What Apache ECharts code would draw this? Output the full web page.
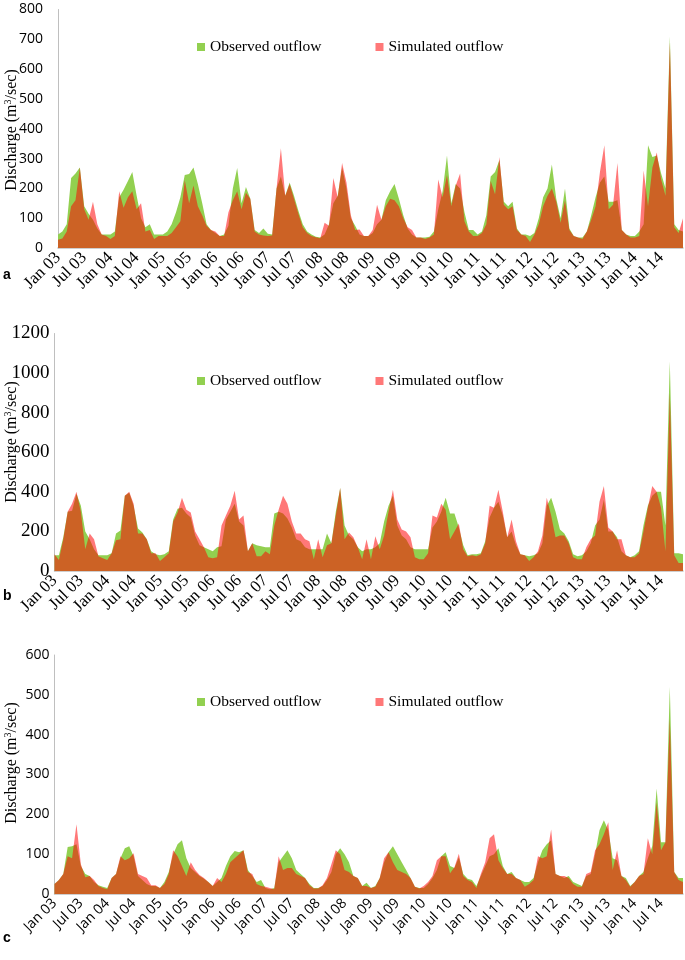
<!DOCTYPE html>
<html>
<head>
<meta charset="utf-8">
<script src="https://cdn.jsdelivr.net/npm/echarts@6/dist/echarts.min.js"></script>
<style>
html,body{margin:0;padding:0;background:#fff;}
#chart{width:685px;height:960px;}
</style>
</head>
<body>
<div id="chart"></div>
<script>
// ---- categories (monthly, Jan 2003 - Dec 2014) ----
const monthNames = ['Jan','Feb','Mar','Apr','May','Jun','Jul','Aug','Sep','Oct','Nov','Dec'];
const yearLabels = ['03','04','05','06','07','08','09','10','11','12','13','14'];
const categories = [];
yearLabels.forEach(y => monthNames.forEach(m => categories.push(m + ' ' + y)));

// ---- Panel a ----
const aObserved = [
  45,55,80,235,250,270,140,115,95,65,45,45,
  45,55,170,195,225,255,175,100,70,80,45,45,
  45,55,80,120,170,245,248,270,215,150,80,60,
  50,40,45,75,200,268,150,205,165,60,50,65,
  48,45,200,240,175,220,175,125,80,55,45,38,
  35,45,80,150,175,270,200,100,75,45,40,40,
  50,80,95,160,190,215,165,110,65,45,35,35,
  35,38,55,130,190,310,150,215,200,120,60,60,
  45,55,110,240,255,295,155,140,155,65,45,45,
  40,50,100,170,200,280,165,100,200,65,40,35,
  35,55,110,170,220,240,155,155,160,60,45,40,
  40,55,80,345,305,310,250,200,710,80,60,55
];
const aSimulated = [
  28,32,55,140,160,270,130,95,155,80,45,40,
  30,40,190,135,170,190,130,150,55,60,30,40,
  40,40,50,70,90,228,150,210,140,110,75,60,
  55,40,40,120,160,190,130,185,165,55,45,42,
  40,42,200,335,175,215,165,115,70,50,40,36,
  33,85,75,235,170,285,220,110,60,62,40,40,
  60,145,95,140,165,160,140,100,70,60,35,35,
  30,35,45,230,170,245,140,210,250,90,55,40,
  40,50,80,225,180,305,145,130,140,60,45,40,
  20,45,80,140,175,200,155,85,160,60,40,35,
  30,55,95,140,255,345,130,145,285,60,45,35,
  35,40,260,140,270,320,230,175,690,70,50,100
];

// ---- Panel b ----
const bObserved = [
  80,80,170,300,305,390,330,200,160,110,80,80,
  80,90,190,205,380,395,330,215,195,160,100,85,
  80,85,100,260,315,320,290,270,180,130,120,110,
  100,120,125,260,300,340,250,230,100,140,130,125,
  120,120,290,300,290,265,220,160,150,120,110,110,
  110,110,190,140,300,420,230,180,160,120,100,110,
  110,120,140,250,330,380,230,180,160,120,110,110,
  110,110,220,250,300,370,290,290,220,130,80,85,
  85,90,150,270,320,350,280,170,200,130,85,80,
  75,80,90,140,330,370,300,210,190,150,85,75,
  80,100,140,230,260,360,200,200,170,100,80,70,
  80,100,230,330,380,400,400,230,1060,90,90,85
];
const bSimulated = [
  85,55,160,300,340,400,300,110,190,160,75,65,
  55,90,155,160,380,400,340,190,190,160,90,90,
  50,70,90,250,295,370,310,295,200,160,120,70,
  65,70,230,280,330,405,260,280,100,140,75,75,
  100,85,230,310,380,340,250,190,190,160,150,60,
  160,70,130,140,280,420,160,195,170,120,60,160,
  60,175,110,180,300,410,260,210,200,170,70,60,
  60,90,280,270,340,310,160,200,240,110,75,80,
  75,85,140,330,320,410,300,170,260,150,85,80,
  50,70,100,180,370,280,170,180,180,140,70,60,
  60,120,160,180,350,430,220,200,160,160,80,70,
  70,90,200,320,430,400,320,100,900,80,40,40
];

// ---- Panel c ----
const cObserved = [
  25,35,50,118,120,125,70,50,45,30,22,18,
  15,40,50,90,115,120,95,45,35,25,20,20,
  15,30,55,100,125,135,90,65,55,45,38,30,
  20,30,40,70,95,108,105,110,60,45,30,35,
  15,12,15,80,95,110,90,60,50,40,25,15,
  15,20,35,55,100,115,100,80,45,40,20,28,
  15,20,40,80,105,120,100,80,60,40,18,15,
  15,25,40,60,95,105,70,65,92,50,38,35,
  20,45,70,95,100,115,70,50,55,40,35,30,
  30,40,80,110,125,135,50,45,40,45,30,25,
  20,45,50,100,160,185,160,90,85,45,40,20,
  30,45,55,90,120,265,130,130,520,55,40,40
];
const cSimulated = [
  25,35,50,95,90,175,75,42,45,35,20,15,
  12,40,50,95,85,90,102,50,45,40,22,22,
  15,25,50,110,95,70,45,80,60,48,40,30,
  20,40,30,50,80,90,100,110,55,50,25,20,
  18,15,12,95,60,65,65,50,45,40,22,14,
  14,22,40,75,110,100,60,55,45,40,20,20,
  15,18,40,90,105,80,60,55,50,40,18,14,
  20,30,45,85,95,95,52,67,101,45,35,30,
  15,50,80,140,150,85,65,50,50,40,35,18,
  25,35,95,90,95,162,50,45,45,40,25,18,
  18,50,55,110,125,150,180,60,110,45,35,18,
  30,45,50,140,100,230,110,130,440,55,35,30
];

// ---- axis ranges ----
const yMax = [800, 1200, 600];
const yStep = [100, 200, 100];
const panelLetters = ['a', 'b', 'c'];
const yTitle = '{t|Discharge (m}{s|3}{t|/sec)}';

const SERIF = "'Liberation Serif', 'Times New Roman', serif";
const SANS = "'Open Sans', 'Liberation Sans', sans-serif";

const grids = [
  {left: 58, top: 9.5, width: 625, height: 238.5},
  {left: 54.5, top: 333.5, width: 628.5, height: 237.5},
  {left: 54.5, top: 655, width: 628.5, height: 239}
];
const yLabelFont = [SANS, SERIF, SANS];
const yLabelSize = [14, 19, 14];
const yLabelMargin = [15, 5, 5];
const xLabelFont = [SERIF, SERIF, SANS];
const xLabelSize = [17, 17, 14];
const legendTops = [39, 373, 694];
const letterTops = [268, 589, 931];
const titleCenters = [130, 442, 763];

const obsData = [aObserved, bObserved, cObserved];
const simData = [aSimulated, bSimulated, cSimulated];

const GREEN = '#92D050';
const RED = '#FF0000';
const RED_OPACITY = 0.53;
const PINK = '#FF7878';

const option = {
  animation: false,
  backgroundColor: '#fff',
  grid: grids.map(g => Object.assign({containLabel: false, outerBoundsMode: 'none'}, g)),
  xAxis: grids.map((g, i) => ({
    type: 'category',
    gridIndex: i,
    data: categories,
    boundaryGap: false,
    axisLine: {show: true, lineStyle: {color: '#BFBFBF', width: 1.5}},
    axisTick: {show: false},
    splitLine: {show: false},
    axisLabel: {
      interval: 5, rotate: 45, margin: 7,
      fontFamily: xLabelFont[i], fontSize: xLabelSize[i], color: '#000'
    }
  })),
  yAxis: grids.map((g, i) => ({
    type: 'value',
    gridIndex: i,
    min: 0, max: yMax[i], interval: yStep[i],
    axisLine: {show: true, lineStyle: {color: '#BFBFBF', width: 1}},
    axisTick: {show: false},
    splitLine: {show: false},
    axisLabel: {
      fontFamily: yLabelFont[i], fontSize: yLabelSize[i], color: '#000', margin: yLabelMargin[i],
      formatter: v => String(v)
    }
  })),
  legend: legendTops.map(t => ({
    left: 197, top: t, padding: 0,
    itemWidth: 8, itemHeight: 8, itemGap: 54,
    icon: 'rect',
    textStyle: {fontFamily: SERIF, fontSize: 15.5, color: '#000'},
    data: [
      {name: 'Observed outflow', itemStyle: {color: GREEN}},
      {name: 'Simulated outflow', itemStyle: {color: PINK, opacity: 1}}
    ]
  })),
  graphic: panelLetters.map((l, i) => ({
    type: 'text', left: 3, top: letterTops[i],
    style: {text: l, font: "bold 14px 'Liberation Sans', sans-serif", fill: '#000'}
  })).concat(titleCenters.map(cy => ({
    type: 'text', x: 12, y: cy, rotation: Math.PI / 2,
    style: {
      text: yTitle, align: 'center', verticalAlign: 'middle',
      rich: {
        t: {fontFamily: SERIF, fontSize: 16, fill: '#000', lineHeight: 18},
        s: {fontFamily: SERIF, fontSize: 10, fill: '#000', lineHeight: 18, padding: [0, 0, 7, 0]}
      }
    }
  }))),
  series: []
};

for (let i = 0; i < 3; i++) {
  option.series.push({
    name: 'Observed outflow', type: 'line',
    xAxisIndex: i, yAxisIndex: i,
    data: obsData[i],
    symbol: 'none', showSymbol: false,
    lineStyle: {width: 0, opacity: 0},
    itemStyle: {color: GREEN},
    areaStyle: {color: GREEN, opacity: 1},
    z: 2
  });
  option.series.push({
    name: 'Simulated outflow', type: 'line',
    xAxisIndex: i, yAxisIndex: i,
    data: simData[i],
    symbol: 'none', showSymbol: false,
    lineStyle: {width: 0, opacity: 0},
    itemStyle: {color: PINK},
    areaStyle: {color: RED, opacity: RED_OPACITY},
    z: 3
  });
}

const chart = echarts.init(document.getElementById('chart'), null, {renderer: 'canvas'});
chart.setOption(option);
</script>
</body>
</html>
